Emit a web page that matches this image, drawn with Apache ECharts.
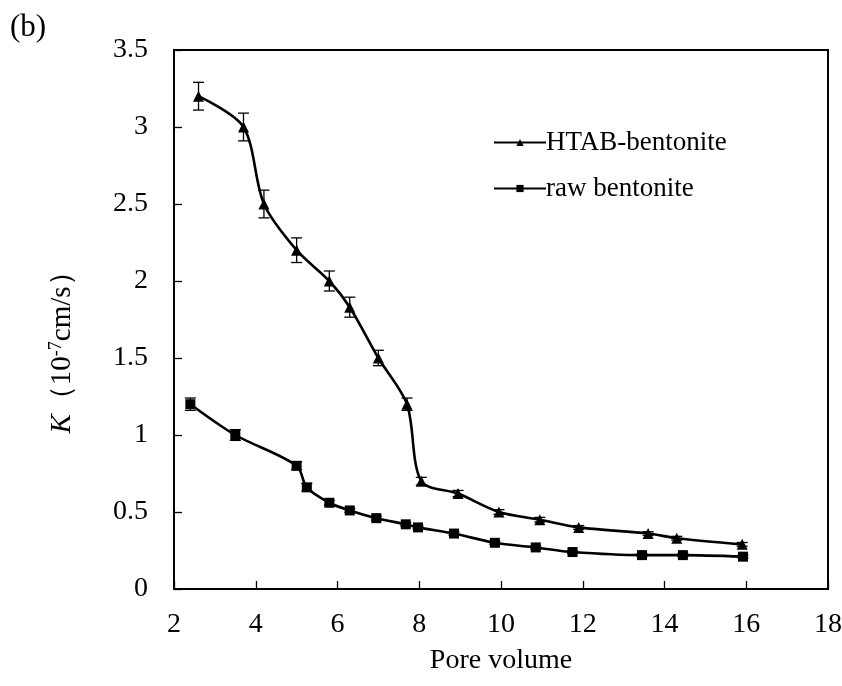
<!DOCTYPE html>
<html>
<head>
<meta charset="utf-8">
<script src="https://cdn.jsdelivr.net/npm/echarts@6/dist/echarts.min.js"></script>
<style>
  html, body { margin: 0; padding: 0; background: #fff; }
  #chart { width: 842px; height: 686px; }
</style>
</head>
<body>
<div id="chart"></div>
<script>
// HTAB-bentonite: pore volume, K, error
const htabX = [2.6, 3.7, 4.2, 5.0, 5.8, 6.3, 7.0, 7.7, 8.05, 8.95, 9.95, 10.95, 11.9, 13.6, 14.3, 15.9];
const htabK = [3.2, 3.0, 2.5, 2.2, 2.0, 1.83, 1.5, 1.2, 0.7, 0.62, 0.5, 0.45, 0.4, 0.36, 0.33, 0.29];
const htabErr = [0.09, 0.09, 0.09, 0.08, 0.065, 0.065, 0.05, 0.04, 0.025, 0.02, 0.015, 0.015, 0.012, 0.012, 0.012, 0.012];

// raw bentonite
const rawX = [2.4, 3.5, 5.0, 5.25, 5.8, 6.3, 6.95, 7.67, 7.97, 8.85, 9.85, 10.85, 11.75, 13.45, 14.45, 15.92];
const rawK = [1.2, 1.0, 0.8, 0.66, 0.56, 0.51, 0.46, 0.42, 0.40, 0.36, 0.30, 0.27, 0.24, 0.22, 0.22, 0.21];
const rawErr = [0.04, 0.035, 0.025, 0.025, 0.015, 0.012, 0.012, 0.01, 0.01, 0.01, 0.01, 0.01, 0.01, 0.01, 0.01, 0.01];

const xTicks = [2, 18, 2];   // min, max, interval
const yTicks = [0, 3.5, 0.5];

const font = '"Liberation Serif", "Times New Roman", serif';

const pair = (xs, ys) => xs.map((x, i) => [x, ys[i]]);
const errData = (xs, ys, es) => xs.map((x, i) => [x, ys[i], es[i]]);

function errorBar(params, api) {
  const x = api.value(0), y = api.value(1), e = api.value(2);
  const hi = api.coord([x, y + e]);
  const lo = api.coord([x, y - e]);
  const w = 5.5;
  const style = { stroke: '#000', lineWidth: 1.3 };
  return {
    type: 'group',
    children: [
      { type: 'line', shape: { x1: hi[0], y1: hi[1], x2: lo[0], y2: lo[1] }, style },
      { type: 'line', shape: { x1: hi[0] - w, y1: hi[1], x2: hi[0] + w, y2: hi[1] }, style },
      { type: 'line', shape: { x1: lo[0] - w, y1: lo[1], x2: lo[0] + w, y2: lo[1] }, style },
    ],
  };
}

const myChart = echarts.init(document.getElementById('chart'), null, { renderer: 'canvas' });

const option = {
  animation: false,
  backgroundColor: '#fff',
  textStyle: { fontFamily: font, color: '#000' },
  grid: {
    left: 174, right: 14, top: 50, bottom: 97,
    outerBoundsMode: 'none',
    containLabel: false,
    show: true, borderColor: '#000', borderWidth: 2,
  },
  legend: {
    orient: 'vertical',
    left: 488,
    top: 124,
    itemWidth: 52,
    itemHeight: 9,
    itemGap: 19,
    textStyle: { fontFamily: font, fontSize: 27, color: '#000', padding: [0, 0, 0, -5] },
    data: ['HTAB-bentonite', 'raw bentonite'],
  },
  xAxis: {
    type: 'value',
    min: xTicks[0], max: xTicks[1], interval: xTicks[2],
    name: 'Pore volume',
    nameLocation: 'middle',
    nameGap: 58,
    nameTextStyle: { fontFamily: font, fontSize: 28, color: '#000' },
    axisLine: { show: true, lineStyle: { color: '#000', width: 2 } },
    axisTick: { inside: true, length: 8, lineStyle: { color: '#000', width: 1.3 } },
    axisLabel: { fontFamily: font, fontSize: 28, color: '#000', margin: 22 },
    splitLine: { show: false },
  },
  yAxis: {
    type: 'value',
    min: yTicks[0], max: yTicks[1], interval: yTicks[2],
    name: '{i|K}（10{sup|-7}cm/s）',
    nameLocation: 'middle',
    nameGap: 97,
    nameRotate: 90,
    nameTextStyle: {
      fontFamily: font, fontSize: 29, color: '#000',
      padding: [0, 52, 0, 0],
      rich: {
        i: { fontFamily: font, fontSize: 29, fontStyle: 'italic', color: '#000' },
        sup: { fontFamily: font, fontSize: 18, color: '#000', verticalAlign: 'top', padding: [0, 0, 12, 0] },
      },
    },
    axisLine: { show: true, lineStyle: { color: '#000', width: 2 } },
    axisTick: { inside: true, length: 8, lineStyle: { color: '#000', width: 1.3 } },
    axisLabel: { fontFamily: font, fontSize: 28, color: '#000', margin: 26 },
    splitLine: { show: false },
  },
  graphic: [
    {
      type: 'text', left: 10, top: 12,
      style: { text: '(b)', fontFamily: font, fontSize: 31, fill: '#000' },
    },
  ],
  series: [
    {
      name: 'HTAB-bentonite',
      type: 'line',
      data: pair(htabX, htabK),
      smooth: 0.3,
      symbol: 'triangle',
      symbolSize: 11,
      itemStyle: { color: '#000' },
      lineStyle: { color: '#000', width: 2.6 },
      z: 3,
    },
    {
      name: 'raw bentonite',
      type: 'line',
      data: pair(rawX, rawK),
      smooth: 0.3,
      symbol: 'rect',
      symbolSize: 10,
      itemStyle: { color: '#000' },
      lineStyle: { color: '#000', width: 2.6 },
      z: 3,
    },
    {
      type: 'custom',
      renderItem: errorBar,
      data: errData(htabX, htabK, htabErr),
      encode: { x: 0, y: 1 },
      silent: true,
      z: 2,
    },
    {
      type: 'custom',
      renderItem: errorBar,
      data: errData(rawX, rawK, rawErr),
      encode: { x: 0, y: 1 },
      silent: true,
      z: 2,
    },
  ],
};

myChart.setOption(option, true);
</script>
</body>
</html>
